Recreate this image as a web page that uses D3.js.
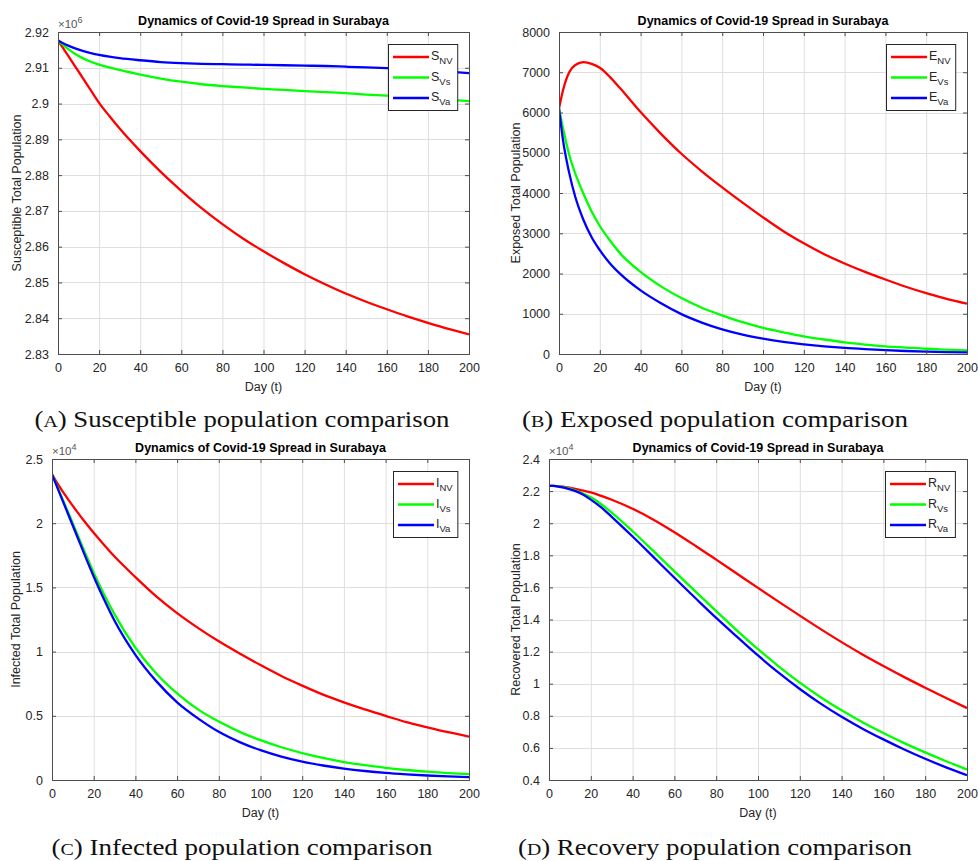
<!DOCTYPE html>
<html>
<head>
<meta charset="utf-8">
<script src="https://cdn.jsdelivr.net/npm/d3@7"></script>
<style>
  body { margin: 0; background: #fff; }
  svg { display: block; }
</style>
</head>
<body>
<svg id="chart" width="978" height="861"></svg>
<script>
// Sample days shared by every curve
const days = [0, 2, 5, 8, 12, 16, 20, 25, 30, 40, 50, 60, 70, 80, 90, 100, 110, 120, 130, 140, 150, 160, 170, 180, 190, 200];

// Susceptible (x10^6)
const sNV = [2.9176, 2.9159, 2.9133, 2.9107, 2.9072, 2.9037, 2.9002, 2.8965, 2.8930, 2.8867, 2.8809, 2.8756, 2.8707, 2.8663, 2.8623, 2.8587, 2.8554, 2.8523, 2.8495, 2.8469, 2.8446, 2.8425, 2.8405, 2.8387, 2.8370, 2.8355];
const sVs = [2.9176, 2.9166, 2.9152, 2.9140, 2.9127, 2.9117, 2.9109, 2.9101, 2.9094, 2.9081, 2.9070, 2.9061, 2.9054, 2.9049, 2.9045, 2.9041, 2.9038, 2.9035, 2.9032, 2.9029, 2.9025, 2.9022, 2.9018, 2.9015, 2.9011, 2.9007];
const sVa = [2.9176, 2.9170, 2.9162, 2.9155, 2.9147, 2.9141, 2.9136, 2.9131, 2.9127, 2.9121, 2.9116, 2.9113, 2.9111, 2.9110, 2.9109, 2.9108, 2.9107, 2.9106, 2.9105, 2.9103, 2.9101, 2.9099, 2.9096, 2.9093, 2.9089, 2.9085];

// Exposed
const eNV = [6100, 6560, 7000, 7180, 7250, 7210, 7110, 6880, 6600, 6010, 5470, 4975, 4540, 4140, 3760, 3395, 3050, 2750, 2480, 2250, 2040, 1850, 1670, 1510, 1370, 1250];
const eVs = [6100, 5600, 4950, 4480, 3980, 3540, 3180, 2820, 2500, 2040, 1680, 1390, 1150, 960, 790, 650, 540, 440, 360, 290, 235, 190, 160, 130, 110, 90];
const eVa = [6100, 5300, 4500, 3900, 3330, 2900, 2580, 2250, 1990, 1580, 1260, 990, 780, 610, 480, 380, 300, 240, 190, 150, 120, 95, 75, 60, 48, 38];

// Infected (x10^4)
const iNV = [2.38, 2.325, 2.25, 2.18, 2.09, 2.005, 1.925, 1.83, 1.74, 1.58, 1.43, 1.30, 1.185, 1.08, 0.985, 0.895, 0.81, 0.735, 0.665, 0.605, 0.55, 0.50, 0.45, 0.41, 0.372, 0.338];
const iVs = [2.38, 2.305, 2.19, 2.075, 1.92, 1.765, 1.615, 1.445, 1.29, 1.03, 0.83, 0.675, 0.55, 0.455, 0.375, 0.31, 0.255, 0.21, 0.172, 0.14, 0.115, 0.095, 0.078, 0.065, 0.054, 0.045];
const iVa = [2.38, 2.30, 2.18, 2.06, 1.90, 1.74, 1.585, 1.405, 1.24, 0.975, 0.77, 0.605, 0.48, 0.375, 0.295, 0.232, 0.182, 0.143, 0.113, 0.089, 0.07, 0.055, 0.044, 0.035, 0.028, 0.022];

// Recovered (x10^4)
const rNV = [2.233, 2.232, 2.229, 2.225, 2.216, 2.204, 2.192, 2.17, 2.146, 2.09, 2.022, 1.944, 1.86, 1.773, 1.685, 1.597, 1.51, 1.424, 1.34, 1.259, 1.182, 1.11, 1.041, 0.975, 0.911, 0.848];
const rVs = [2.233, 2.232, 2.228, 2.221, 2.207, 2.187, 2.162, 2.118, 2.066, 1.95, 1.826, 1.70, 1.575, 1.452, 1.331, 1.215, 1.107, 1.007, 0.916, 0.834, 0.76, 0.693, 0.63, 0.572, 0.517, 0.465];
const rVa = [2.233, 2.232, 2.227, 2.219, 2.203, 2.18, 2.147, 2.098, 2.04, 1.917, 1.789, 1.66, 1.534, 1.41, 1.292, 1.176, 1.067, 0.967, 0.876, 0.794, 0.72, 0.653, 0.59, 0.532, 0.479, 0.43];

// Tick values
const xTicks = [0, 20, 40, 60, 80, 100, 120, 140, 160, 180, 200];
const sTicks = [2.83, 2.84, 2.85, 2.86, 2.87, 2.88, 2.89, 2.9, 2.91, 2.92];
const eTicks = [0, 1000, 2000, 3000, 4000, 5000, 6000, 7000, 8000];
const iTicks = [0, 0.5, 1, 1.5, 2, 2.5];
const rTicks = [0.4, 0.6, 0.8, 1, 1.2, 1.4, 1.6, 1.8, 2, 2.2, 2.4];

const colors = ['#ff0000', '#00ff00', '#0000ff'];
const subs = ['NV', 'Vs', 'Va'];
const axisColor = '#262626';
const sans = '"Liberation Sans", Arial, Helvetica, sans-serif';
const serif = '"Liberation Serif", "Times New Roman", serif';

const panels = [
    { box: [58, 469, 32, 354], ticks: sTicks, series: [sNV, sVs, sVa], letter: 'S', exp: '6',
      ylabel: 'Susceptible Total Population', ylabX: 21, caption: 'Susceptible population comparison', cap: 'A', capX: 242, capY: 427, capW: 415 },
    { box: [559, 967, 32, 354], ticks: eTicks, series: [eNV, eVs, eVa], letter: 'E', exp: null,
      ylabel: 'Exposed Total Population', ylabX: 520, caption: 'Exposed population comparison', cap: 'B', capX: 715, capY: 427, capW: 386 },
    { box: [52, 469, 459, 780], ticks: iTicks, series: [iNV, iVs, iVa], letter: 'I', exp: '4',
      ylabel: 'Infected Total Population', ylabX: 20, caption: 'Infected population comparison', cap: 'C', capX: 242, capY: 855, capW: 381 },
    { box: [549, 967, 459, 780], ticks: rTicks, series: [rNV, rVs, rVa], letter: 'R', exp: '4',
      ylabel: 'Recovered Total Population', ylabX: 520, caption: 'Recovery population comparison', cap: 'D', capX: 715, capY: 855, capW: 394 }
];

const svg = d3.select('#chart');
const fmt = d => String(+d.toFixed(3));

panels.forEach((p, pi) => {
    const [left, right, top, bottom] = p.box;
    const x = d3.scaleLinear().domain([0, 200]).range([left, right]);
    const y = d3.scaleLinear().domain(d3.extent(p.ticks)).range([bottom, top]);
    const g = svg.append('g');

    // grid
    g.append('g').selectAll('line').data(xTicks.slice(1, -1)).join('line')
        .attr('x1', d => x(d) + 0.5).attr('x2', d => x(d) + 0.5)
        .attr('y1', top).attr('y2', bottom)
        .attr('stroke', '#dfdfdf').attr('stroke-width', 1);
    g.append('g').selectAll('line').data(p.ticks.slice(1, -1)).join('line')
        .attr('y1', d => Math.round(y(d)) + 0.5).attr('y2', d => Math.round(y(d)) + 0.5)
        .attr('x1', left).attr('x2', right)
        .attr('stroke', '#dfdfdf').attr('stroke-width', 1);

    // curves
    const clipId = 'clip' + pi;
    g.append('clipPath').attr('id', clipId).append('rect')
        .attr('x', left).attr('y', top).attr('width', right - left).attr('height', bottom - top);
    const line = d3.line().x((d, i) => x(days[i])).y(d => y(d)).curve(d3.curveMonotoneX);
    g.append('g').attr('clip-path', `url(#${clipId})`)
        .selectAll('path').data(p.series).join('path')
        .attr('d', line)
        .attr('fill', 'none')
        .attr('stroke', (d, i) => colors[i])
        .attr('stroke-width', 2.3)
        .attr('stroke-linejoin', 'round');

    // axes on all four sides, ticks pointing in
    const bottomAxis = d3.axisBottom(x).tickValues(xTicks).tickSize(-4).tickPadding(9).tickFormat(fmt);
    const topAxis = d3.axisTop(x).tickValues(xTicks).tickSize(-4).tickFormat('');
    const leftAxis = d3.axisLeft(y).tickValues(p.ticks).tickSize(-4).tickPadding(9).tickFormat(fmt);
    const rightAxis = d3.axisRight(y).tickValues(p.ticks).tickSize(-4).tickFormat('');

    const styleAxis = sel => {
        sel.selectAll('path').attr('stroke', '#4d4d4d');
        sel.selectAll('line').attr('stroke', '#4d4d4d');
        sel.selectAll('text').attr('fill', axisColor).style('font-family', sans).style('font-size', '12.5px');
    };
    g.append('g').attr('transform', `translate(0,${bottom})`).call(bottomAxis).call(styleAxis);
    g.append('g').attr('transform', `translate(0,${top})`).call(topAxis).call(styleAxis);
    g.append('g').attr('transform', `translate(${left},0)`).call(leftAxis).call(styleAxis);
    g.append('g').attr('transform', `translate(${right},0)`).call(rightAxis).call(styleAxis);
    g.selectAll('.domain').attr('stroke-width', 1);

    // exponent label
    if (p.exp) {
        const ex = g.append('text').attr('x', left).attr('y', top - 4)
            .attr('fill', '#555').style('font-family', sans).style('font-size', '11.5px');
        ex.append('tspan').text('\u00d710');
        ex.append('tspan').attr('dy', -5).style('font-size', '9px').text(p.exp);
    }

    // title and axis labels
    g.append('text').attr('x', (left + right) / 2).attr('y', top - 7)
        .attr('text-anchor', 'middle').attr('fill', '#000')
        .style('font-family', sans).style('font-size', '12.5px').style('font-weight', 'bold')
        .text('Dynamics of Covid-19 Spread in Surabaya');
    g.append('text').attr('x', (left + right) / 2).attr('y', bottom + 37)
        .attr('text-anchor', 'middle').attr('fill', axisColor)
        .style('font-family', sans).style('font-size', '12.5px')
        .text('Day (t)');
    g.append('text').attr('transform', `translate(${p.ylabX},${(top + bottom) / 2}) rotate(-90)`)
        .attr('text-anchor', 'middle').attr('fill', axisColor)
        .style('font-family', sans).style('font-size', '12.5px')
        .text(p.ylabel);

    // legend
    const lg = g.append('g');
    const frame = lg.append('rect').attr('fill', '#fff').attr('stroke', axisColor).attr('stroke-width', 1);
    const rows = lg.selectAll('g').data(subs).join('g');
    rows.append('line')
        .attr('x1', 5).attr('x2', 41)
        .attr('y1', (d, i) => 13 + i * 20.5).attr('y2', (d, i) => 13 + i * 20.5)
        .attr('stroke', (d, i) => colors[i]).attr('stroke-width', 2.3);
    const lt = rows.append('text')
        .attr('x', 43).attr('y', (d, i) => 13 + i * 20.5 + 3)
        .attr('fill', axisColor).style('font-family', sans).style('font-size', '12.5px');
    lt.append('tspan').text(p.letter);
    lt.append('tspan').attr('dy', 4).style('font-size', '9.5px').text(d => d);
    const textW = d3.max(lt.nodes(), n => n.getBBox().width);
    const boxW = 43 + textW + 4;
    frame.attr('x', 0.5).attr('y', 0.5).attr('width', boxW).attr('height', 66);
    lg.attr('transform', `translate(${Math.round(right - 12 - boxW)},${top + 12})`);

    // caption, stretched to the width of the original serif face
    const cap = svg.append('text').attr('x', p.capX).attr('y', p.capY)
        .attr('text-anchor', 'middle').attr('fill', '#111')
        .style('font-family', serif).style('font-size', '23px');
    cap.append('tspan').text('(');
    cap.append('tspan').style('font-size', '17px').text(p.cap);
    cap.append('tspan').text(') ' + p.caption);
    cap.attr('textLength', p.capW).attr('lengthAdjust', 'spacingAndGlyphs');
});
</script>
</body>
</html>
